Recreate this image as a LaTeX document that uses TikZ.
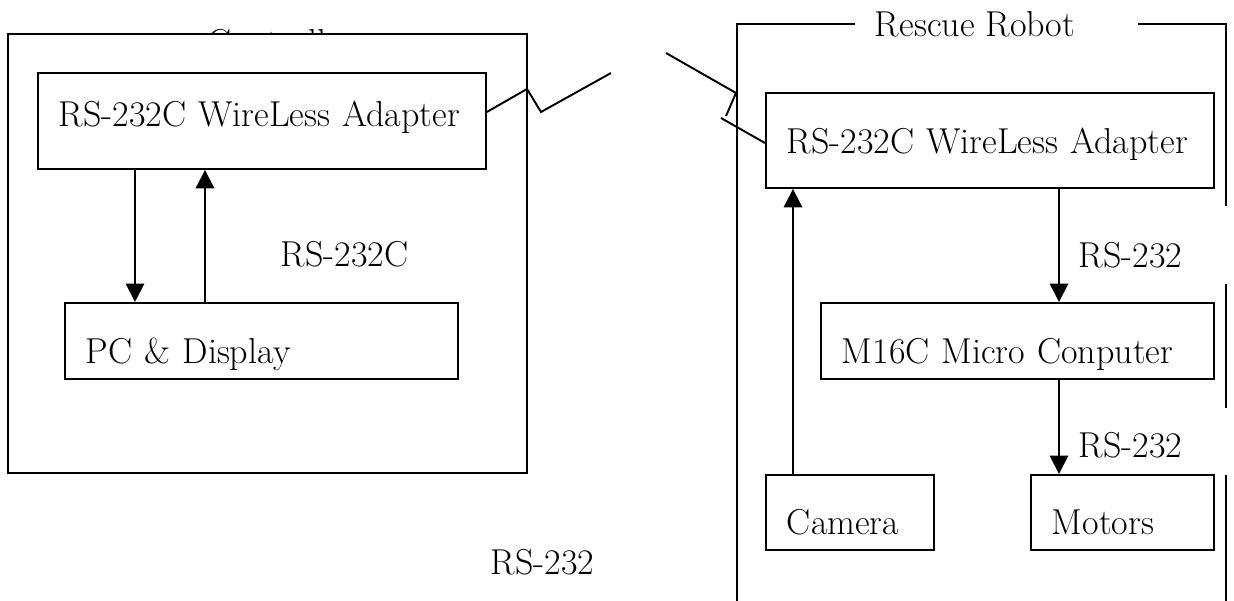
\documentclass[tikz,border=0pt]{standalone}
\usetikzlibrary{arrows.meta}
\begin{document}
\begin{tikzpicture}[x=0.02cm,y=-0.02cm,line width=1.1pt,
    every node/.style={font=\fontsize{20.5}{24}\selectfont},
    blk/.style={draw,anchor=north west,inner xsep=0.42cm,inner ysep=0pt,align=left},
    tag/.style={fill=white,anchor=north west,inner xsep=0.16cm,inner ysep=0pt,align=left},
    sig/.style={-{Triangle[width=0.37cm,length=0.37cm]}}]
  \useasboundingbox (0,0) rectangle (1234,601);

  \node[anchor=base west,inner sep=0pt] (ctrltitle) at (207,55) {Controller};
  \draw[fill=white] (8,34) rectangle (527,473);
  \node[blk,text width=8.12cm,text height=1.08cm,text depth=0.84cm] (ladapter) at (37,72) {RS-232C WireLess Adapter};
  \node[blk,text width=7.02cm,text height=1.22cm,text depth=0.30cm] (pc) at (64,302) {PC \& Display};
  \node[anchor=base west,inner sep=0pt] (rslink) at (280,267) {RS-232C};

  \node[anchor=base west,inner sep=0pt] (robottitle) at (874,37) {Rescue Robot};
  \draw (855,24) -- (737,24) -- (737,601);
  \draw (1138,24) -- (1226,24) -- (1226,601);
  \node[tag,text width=2.96cm,text height=1.24cm,text depth=0.32cm] (rsup) at (1070,205) {RS-232};
  \node[tag,text width=2.96cm,text height=1.00cm,text depth=0.34cm] (rsdown) at (1070,407) {RS-232};
  \node[blk,text width=8.12cm,text height=1.22cm,text depth=0.68cm] (radapter) at (765,92) {RS-232C WireLess Adapter};
  \node[blk,text width=7.02cm,text height=1.22cm,text depth=0.30cm] (micro) at (820,302) {M16C Micro Conputer};
  \node[blk,text width=2.52cm,text height=1.20cm,text depth=0.30cm] (camera) at (765,474) {Camera};
  \node[blk,text width=2.82cm,text height=1.20cm,text depth=0.30cm] (motors) at (1030,474) {Motors};

  \node[anchor=base west,inner sep=0pt] (rsair) at (490,574) {RS-232};

  \draw[sig] (ladapter.south -| 135,0) -- (pc.north -| 135,0);
  \draw[sig] (pc.north -| 205,0) -- (ladapter.south -| 205,0);
  \draw[sig] (radapter.south -| 1059,0) -- (micro.north -| 1059,0);
  \draw[sig] (micro.south -| 1059,0) -- (motors.north -| 1059,0);
  \draw[sig] (camera.north -| 793,0) -- (radapter.south -| 793,0);

  \coordinate (lant) at (611,73);
  \coordinate (rant) at (666,53);
  \coordinate (rtip) at (721,118);
  \draw (ladapter.east |- 0,112) -- (527,89) -- (541,112) -- (lant);
  \draw (rant) -- (736,93) -- (726,116);
  \draw (rtip) -- (radapter.west |- 0,143);
\end{tikzpicture}
\end{document}
